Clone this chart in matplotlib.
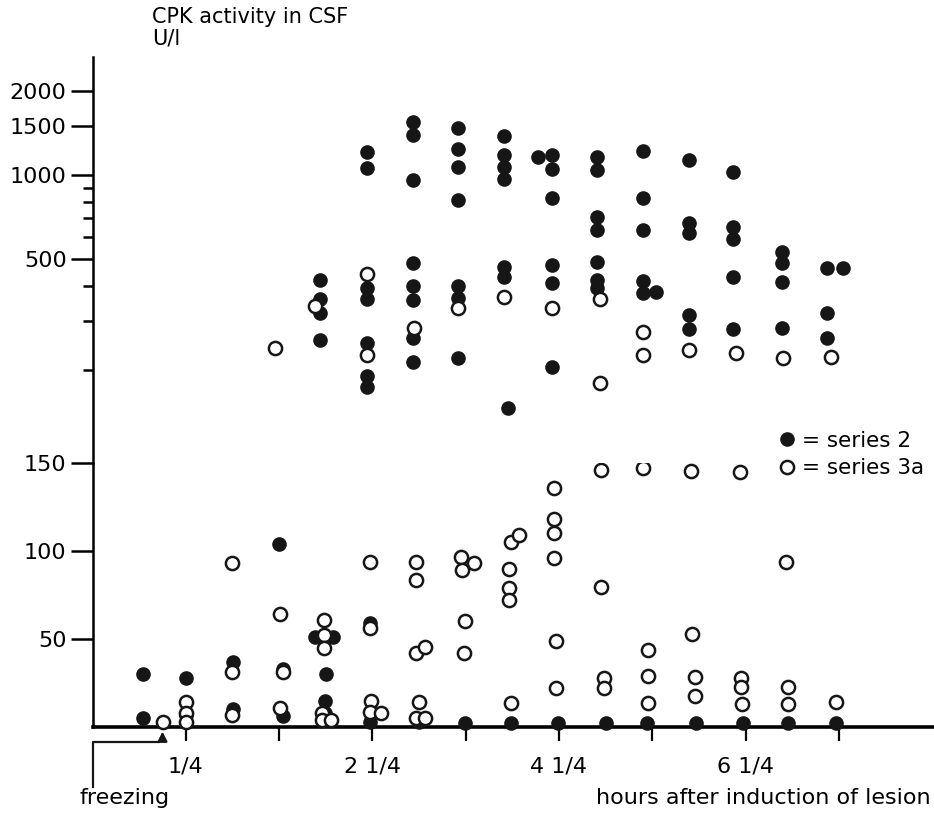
import matplotlib
matplotlib.use("Agg")
import matplotlib.pyplot as plt
from matplotlib.lines import Line2D

plt.rcParams["font.family"] = ["DejaVu Sans"]

# hours after induction of lesion, CPK activity in CSF (U/l)
# upper part of the chart (log scale, >150 U/l)
s2_up_hours = [1.69, 1.69, 1.69, 1.69,
               2.19, 2.19, 2.19, 2.19, 2.19, 2.19, 2.19,
               2.68, 2.68, 2.68, 2.68, 2.68, 2.68, 2.68, 2.68,
               3.17, 3.17, 3.17, 3.17, 3.17, 3.17, 3.17,
               3.66, 3.66, 3.66, 3.66, 3.66, 3.66, 3.70,
               4.03, 4.17, 4.17, 4.17, 4.17, 4.17, 4.17,
               4.66, 4.66, 4.66, 4.66, 4.66, 4.66, 4.66,
               5.15, 5.15, 5.15, 5.15, 5.15, 5.29,
               5.64, 5.64, 5.64, 5.64, 5.64,
               6.12, 6.12, 6.12, 6.12, 6.12,
               6.64, 6.64, 6.64, 6.64,
               7.12, 7.12, 7.12, 7.29]
s2_up_values = [421, 359, 320, 256,
                1210, 1060, 393, 359, 250, 190, 174,
                1550, 1390, 960, 484, 400, 357, 261, 214,
                1475, 1240, 1070, 814, 401, 364, 221,
                1380, 1180, 1070, 970, 468, 431, 146,
                1160, 1180, 1050, 827, 476, 410, 205,
                1160, 1040, 707, 635, 488, 421, 393,
                1220, 827, 635, 417, 378, 381,
                1130, 673, 620, 315, 281,
                1025, 652, 590, 431, 281,
                530, 484, 414, 283,
                464, 320, 261, 464]
s3_up_hours = [1.21, 1.63, 2.19, 2.19, 2.70, 3.17, 3.66, 4.18, 4.69, 4.69,
               5.15, 5.15, 5.64, 6.15, 6.65, 7.17]
s3_up_values = [240, 339, 441, 226, 283, 334, 366, 334, 359, 180,
                273, 226, 236, 230, 221, 223]

# lower part of the chart (linear scale, 0-150 U/l)
s2_lo_hours = [-0.21, -0.21, 0.25, 0.25, 0.76, 0.76, 1.25, 1.29, 1.29,
               1.63, 1.83, 1.75, 1.74, 1.74, 1.74, 2.22, 2.22, 2.75,
               3.24, 3.74, 4.24, 4.75, 5.19, 5.72, 6.22, 6.70, 7.22]
s2_lo_values = [30, 5, 28, 7, 37, 10, 104, 33, 6,
                51, 51, 30, 15, 8, 4, 59, 3, 3,
                2, 2, 2, 2, 2, 2, 2, 2, 2]
s3_lo_hours = [0.00, 0.25, 0.25, 0.25, 0.74, 0.74, 0.74, 1.26, 1.26, 1.29,
               1.73, 1.73, 1.73, 1.71, 1.71, 1.81,
               2.22, 2.22, 2.24, 2.22, 2.34,
               2.72, 2.72, 2.72, 2.81, 2.75, 2.72, 2.81,
               3.20, 3.34, 3.21, 3.24, 3.23,
               3.71, 3.71, 3.71, 3.74, 3.74, 3.82,
               4.20, 4.20, 4.20, 4.20, 4.22, 4.22,
               4.70, 4.70, 4.73, 4.73,
               5.15, 5.20, 5.20, 5.20,
               5.67, 5.68, 5.71, 5.71,
               6.19, 6.20, 6.20, 6.21,
               6.68, 6.70, 6.70, 7.22]
s3_lo_values = [3, 14, 8, 3, 93, 31, 7, 64, 11, 31,
                61, 52, 45, 8, 4, 4,
                94, 56, 15, 8.5, 8,
                94, 83.5, 42, 45.5, 14, 5, 5,
                96.6, 93, 89, 60, 42,
                90, 79, 72, 105, 13.6, 109,
                136, 118, 110, 96, 49, 22,
                146, 79.5, 28, 22,
                147, 44, 29, 13.6,
                145.5, 53, 28.4, 17.6,
                145, 28, 22.7, 13,
                94, 22.7, 13, 14]

tick_hours = [0.25, 1.25, 2.25, 3.25, 4.25, 5.25, 6.25, 7.25]
tick_labels = ["1/4", "", "2 1/4", "", "4 1/4", "", "6 1/4", ""]

W, H = 934, 814
fig = plt.figure(figsize=(W / 100, H / 100), dpi=100)
left, right = 93 / W, 1.0
ax_lo = fig.add_axes([left, (H - 727) / H, right - left, 264 / H])
ax_up = fig.add_axes([left, (H - 463) / H, right - left, 406 / H], sharex=ax_lo)

ink = "#161616"
filled = dict(marker="o", ms=9.5, mfc=ink, mec=ink, ls="none", clip_on=False, zorder=3)
hollow = dict(marker="o", ms=9.5, mfc="white", mec=ink, mew=1.8, ls="none", clip_on=False, zorder=4)

ax_up.plot(s2_up_hours, s2_up_values, **filled)
ax_up.plot(s3_up_hours, s3_up_values, **hollow)
ax_lo.plot(s2_lo_hours, s2_lo_values, **filled)
ax_lo.plot(s3_lo_hours, s3_lo_values, **hollow)

xmin, xmax = -0.745, 8.27
ax_lo.set_xlim(xmin, xmax)
ax_lo.set_ylim(0, 150)
ax_up.set_yscale("log")
ax_up.set_ylim(92.9, 2650)

for a in (ax_lo, ax_up):
    a.spines["top"].set_visible(False)
    a.spines["right"].set_visible(False)
    a.spines["left"].set_linewidth(1.8)
    a.tick_params(axis="y", direction="out", length=16, width=1.8, labelsize=16, pad=3)
    a.tick_params(axis="y", which="minor", length=7, width=1.8)
ax_up.spines["bottom"].set_visible(False)
ax_up.tick_params(axis="x", which="both", bottom=False, labelbottom=False)
ax_lo.spines["bottom"].set_linewidth(2.6)

ax_up.set_yticks([500, 1000, 1500, 2000], ["500", "1000", "1500", "2000"])
ax_up.set_yticks([200, 300, 400, 600, 700, 800, 900], [], minor=True)
ax_lo.set_yticks([50, 100, 150], ["50", "100", "150"])
ax_lo.set_xticks(tick_hours, tick_labels)
ax_lo.tick_params(axis="x", direction="out", length=10, width=1.6, labelsize=16, pad=11)

fig.text(152 / W, 1 - 7 / H, "CPK activity in CSF\nU/l", fontsize=15, va="top", ha="left",
         linespacing=1.1)
fig.text(79 / W, 1 - 798 / H, "freezing", fontsize=16, va="center", ha="left")
fig.text(931 / W, 1 - 798 / H, "hours after induction of lesion", fontsize=16,
         va="center", ha="right")

# freezing marker below the axis
ax_lo.plot([-0.74, -0.74, -0.04], [-34, -8.5, -8.5], color=ink, lw=1.6, clip_on=False)
ax_lo.annotate("", xy=(0.0, -1), xytext=(0.0, -9.5), annotation_clip=False,
               arrowprops=dict(arrowstyle="-|>", color=ink, lw=1.6, mutation_scale=14))

handles = [Line2D([], [], **{k: v for k, v in filled.items() if k not in ("clip_on", "zorder")}),
           Line2D([], [], **{k: v for k, v in hollow.items() if k not in ("clip_on", "zorder")})]
fig.legend(handles, ["= series 2", "= series 3a"], loc="upper left",
           bbox_to_anchor=(768 / W, 1 - 420 / H), frameon=False, fontsize=15.5,
           handlelength=0.8, handletextpad=0.3, labelspacing=0.35, borderpad=0)

plt.savefig("out.png", dpi=100)
